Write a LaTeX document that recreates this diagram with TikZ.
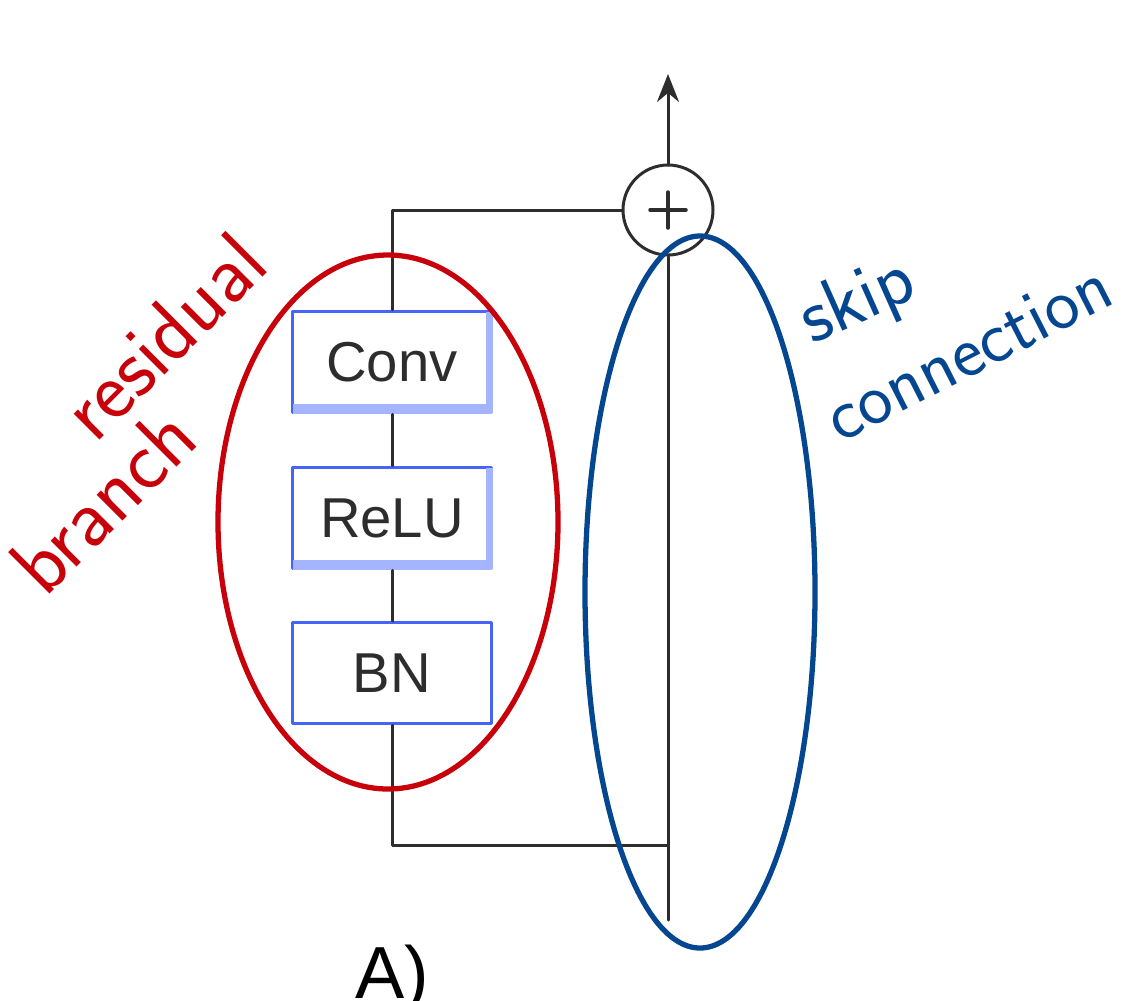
\documentclass[tikz,border=0pt]{standalone}
\usepackage{fontspec}
\newfontfamily\boxfont{Liberation Sans}
\usetikzlibrary{arrows.meta}

\definecolor{penred}{RGB}{200,0,10}
\definecolor{penblue}{RGB}{5,70,145}
\definecolor{boxblue}{RGB}{70,100,250}
\definecolor{boxshade}{RGB}{165,180,255}
\definecolor{inkgray}{RGB}{45,45,45}

\begin{document}
\begin{tikzpicture}[x=0.1mm,y=-0.1mm,>={Stealth[length=2.8mm,width=2.2mm]},
    line cap=round,line join=round,
    layer/.style={draw=boxblue,line width=1pt,fill=white,
      minimum width=19.9mm,minimum height=10.1mm,inner sep=0pt,
      font=\boxfont\fontsize{16}{18}\selectfont,text=inkgray},
    wire/.style={draw=inkgray,line width=.85pt},
    sumnode/.style={circle,draw=inkgray,line width=.85pt,fill=white,
      minimum size=9mm,inner sep=0pt,
      path picture={\draw[inkgray,line width=1pt]
        (path picture bounding box.center) +(-1.8mm,0) -- +(1.8mm,0)
        (path picture bounding box.center) +(0,-1.8mm) -- +(0,1.8mm);}},
    pen/.style={line width=1.5pt},
    hand/.style={font=\sffamily\fontsize{#1}{#1}\selectfont,inner sep=0pt}]
    \useasboundingbox (0,0) rectangle (1134,1000);

    % The residual block: three layers and the summing junction.
    \node[layer] (conv) at (392,362) {Conv};
    \node[layer] (relu) at (392,518) {ReLU};
    \node[layer] (bn)   at (392,673) {BN};
    \foreach \b in {conv,relu} {
      \draw[boxshade,line width=3pt,line cap=butt]
        ([xshift=.5pt,yshift=1.5pt]\b.south west) -- ([xshift=-.5pt,yshift=1.5pt]\b.south east);
      \draw[boxshade,line width=2pt,line cap=butt]
        ([xshift=-1pt,yshift=.5pt]\b.south east) -- ([xshift=-1pt,yshift=-.5pt]\b.north east);
    }
    \node[sumnode] (sum) at (668,210) {};
    \coordinate (out)   at (668,74);
    \coordinate (in)    at (668,920);
    \coordinate (split) at (668,845);

    \draw[wire,->] (sum) -- (out);
    \draw[wire] (in) -- (sum);
    \draw[wire] (split) -| (bn);
    \draw[wire] (bn) -- (relu);
    \draw[wire] (relu) -- (conv);
    \draw[wire] (conv) |- (sum);

    \node[font=\boxfont\fontsize{21}{23}\selectfont,anchor=base west,
      inner sep=0pt] (tag) at (355,998) {A)};

    % Handwritten marks over the figure.
    \draw[pen,penred] (388,522) ellipse [x radius=170,y radius=267];
    \draw[pen,penblue] (700,592) ellipse [x radius=115,y radius=356];

    \node[hand=24,text=penred,rotate=45] (res) at (163,336) {residual};
    \node[hand=24,text=penred,rotate=45] (brn) at (103,500) {branch};
    \node[hand=22,text=penblue,rotate=24] (skp) at (858,303) {skip};
    \node[hand=21,text=penblue,rotate=27] (con) at (968,352) {connection};
\end{tikzpicture}
\end{document}
